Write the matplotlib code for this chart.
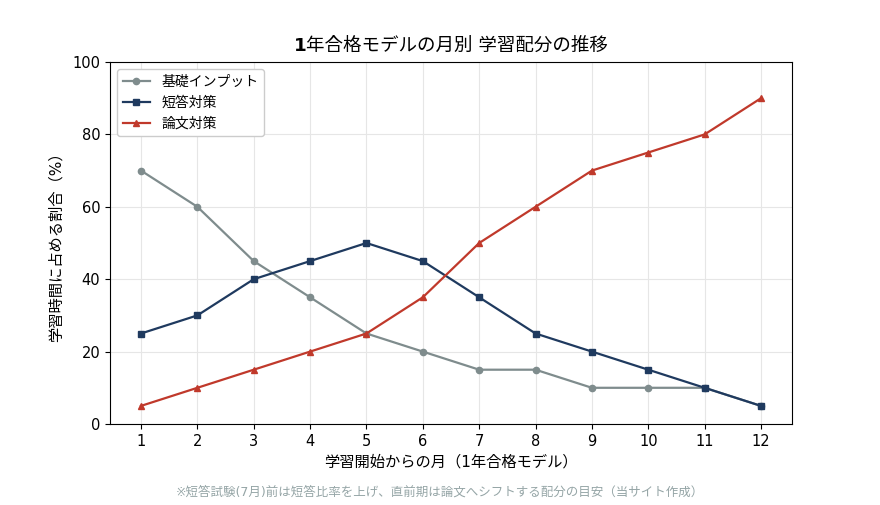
import numpy as np
import matplotlib.pyplot as plt

plt.rcParams['font.family'] = ['DejaVu Sans', 'Noto Sans CJK JP']

months = list(range(1, 13))
basic = [70, 60, 45, 35, 25, 20, 15, 15, 10, 10, 10, 5]
short_ans = [25, 30, 40, 45, 50, 45, 35, 25, 20, 15, 10, 5]
essay = [5, 10, 15, 20, 25, 35, 50, 60, 70, 75, 80, 90]

fig = plt.figure(figsize=(8.8, 5.05), dpi=100)
ax = fig.add_axes([110/880, 1 - 424/505, (792-110)/880, (424-62)/505])

ax.plot(months, basic, color='#7f8c8d', marker='o', markersize=4.5, linewidth=1.6, label='基礎インプット')
ax.plot(months, short_ans, color='#1f3a5f', marker='s', markersize=4.5, linewidth=1.6, label='短答対策')
ax.plot(months, essay, color='#c0392b', marker='^', markersize=4.5, linewidth=1.6, label='論文対策')

ax.set_xlim(0.45, 12.55)
ax.set_ylim(0, 100)
ax.set_xticks(months)
ax.set_yticks([0, 20, 40, 60, 80, 100])
ax.grid(True, color='#e6e6e6', linewidth=0.8)
ax.set_axisbelow(True)
ax.tick_params(labelsize=10.5)

# title: bold "1" followed by regular text
ty = 1 - 46/505
t1 = fig.text(0, ty, '1', fontsize=13.3, fontweight='bold', va='center', ha='left')
t2 = fig.text(0, ty, '年合格モデルの月別 学習配分の推移', fontsize=13.3, va='center', ha='left')
r = fig.canvas.get_renderer()
w1 = t1.get_window_extent(r).width / 880
w2 = t2.get_window_extent(r).width / 880
x0 = (110 + 792) / 2 / 880 - (w1 + w2) / 2
t1.set_x(x0)
t2.set_x(x0 + w1)

ax.set_xlabel('学習開始からの月（1年合格モデル）', fontsize=11)
ax.set_ylabel('学習時間に占める割合（%）', fontsize=11, labelpad=6)
ax.legend(loc='upper left', fontsize=10, framealpha=1, edgecolor='#cccccc')

fig.text(0.5, 1 - 492/505, '※短答試験(7月)前は短答比率を上げ、直前期は論文へシフトする配分の目安（当サイト作成）',
         ha='center', va='center', fontsize=9, color='#95a5a6')

fig.savefig('out.png', dpi=100)
